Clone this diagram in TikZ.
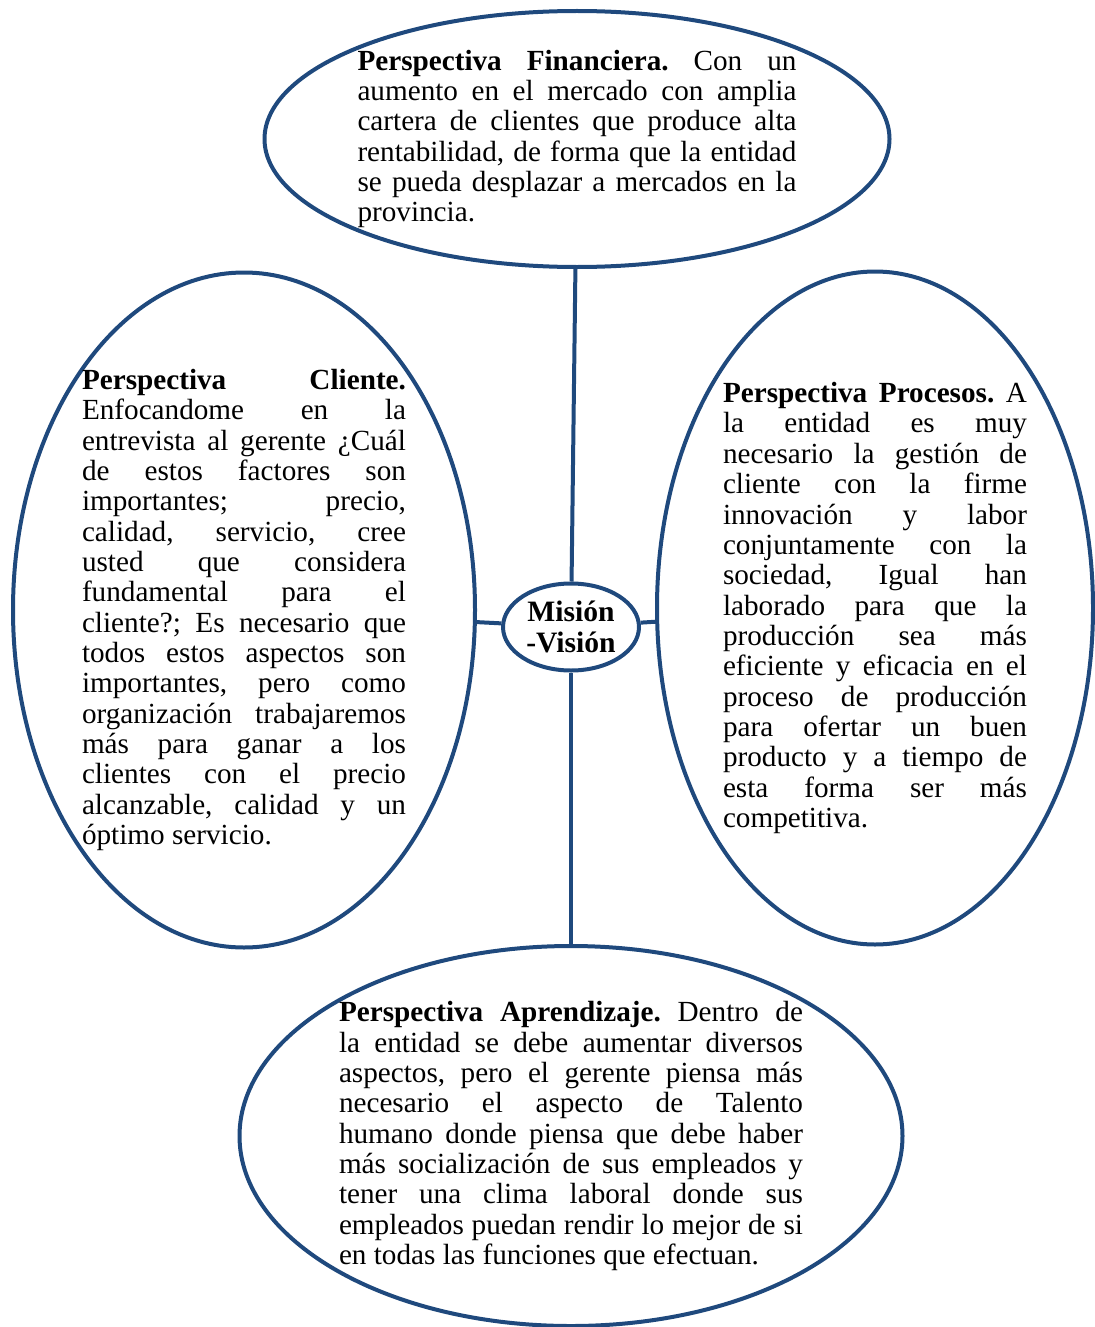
\documentclass[tikz,border=0pt]{standalone}
\usepackage{fontspec}
\setmainfont{Liberation Serif}[BoldFont={Liberation Serif Bold}]
\definecolor{bscBlue}{RGB}{31,73,125}
\usetikzlibrary{shapes.geometric}
\tolerance=10000
\hbadness=10000
\frenchspacing

\begin{document}
\begin{tikzpicture}[x=0.5pt, y=-0.5pt,
  persp/.style={ellipse, draw=bscBlue, line width=2pt, inner sep=-3pt,
                align=justify, font=\fontsize{14.6}{15.17}\selectfont},
  link/.style={draw=bscBlue, line width=2pt}
]
  \useasboundingbox (0,0) rectangle (1094,1327);

  \node[persp, inner sep=0pt, minimum width=68pt, minimum height=43.5pt, align=center,
        font=\bfseries\fontsize{14.8}{15.5}\selectfont] (mv) at (571,627) {Misión\\-Visión};

  \node[persp, minimum width=312.5pt, minimum height=128pt, text width=219.5pt] (fin) at (577,139)
    {\textbf{Perspectiva Financiera.} Con un\linebreak
     aumento en el mercado con amplia\linebreak
     cartera de clientes que produce alta\linebreak
     rentabilidad, de forma que la entidad\linebreak
     se pueda desplazar a mercados en la\linebreak
     provincia.};

  \node[persp, minimum width=231pt, minimum height=337.5pt, text width=162pt] (cli) at (244,610)
    {\textbf{Perspectiva Cliente.}\linebreak
     Enfocandome en la\linebreak
     entrevista al gerente ¿Cuál\linebreak
     de estos factores son\linebreak
     importantes; precio,\linebreak
     calidad, servicio, cree\linebreak
     usted que considera\linebreak
     fundamental para el\linebreak
     cliente?; Es necesario que\linebreak
     todos estos aspectos son\linebreak
     importantes, pero como\linebreak
     organización trabajaremos\linebreak
     más para ganar a los\linebreak
     clientes con el precio\linebreak
     alcanzable, calidad y un\linebreak
     óptimo servicio.};

  \node[persp, minimum width=218pt, minimum height=336.5pt, text width=152pt] (pro) at (875,608)
    {\textbf{Perspectiva Procesos.} A\linebreak
     la entidad es muy\linebreak
     necesario la gestión de\linebreak
     cliente con la firme\linebreak
     innovación y labor\linebreak
     conjuntamente con la\linebreak
     sociedad, Igual han\linebreak
     laborado para que la\linebreak
     producción sea más\linebreak
     eficiente y eficacia en el\linebreak
     proceso de producción\linebreak
     para ofertar un buen\linebreak
     producto y a tiempo de\linebreak
     esta forma ser más\linebreak
     competitiva.};

  \node[persp, minimum width=331.5pt, minimum height=190pt, text width=232pt] (apr) at (571,1136)
    {\textbf{Perspectiva Aprendizaje.} Dentro de\linebreak
     la entidad se debe aumentar diversos\linebreak
     aspectos, pero el gerente piensa más\linebreak
     necesario el aspecto de Talento\linebreak
     humano donde piensa que debe haber\linebreak
     más socialización de sus empleados y\linebreak
     tener una clima laboral donde sus\linebreak
     empleados puedan rendir lo mejor de si\linebreak
     en todas las funciones que efectuan.};

  % connectors to the centre
  \draw[link] (fin) -- (mv);
  \draw[link] (cli) -- (mv);
  \draw[link] (mv) -- (pro);
  \draw[link] (mv) -- (apr);
\end{tikzpicture}
\end{document}
